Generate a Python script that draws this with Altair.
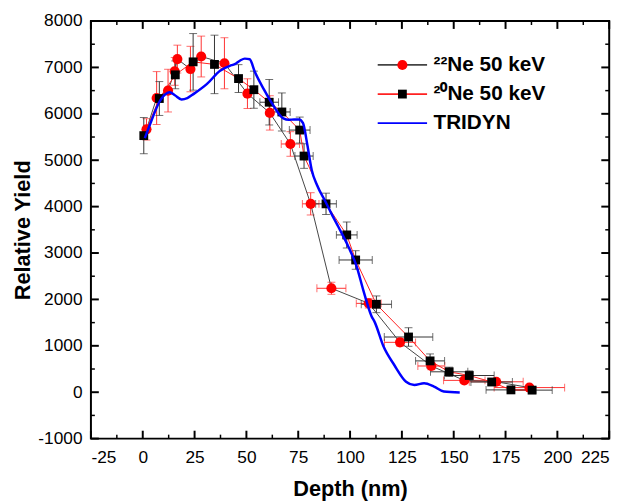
import altair as alt
import pandas as pd

# ---------------- data ----------------
S22 = "²²Ne 50 keV"
S20 = "²⁰Ne 50 keV"
STRI = "TRIDYN"

ne22_x = [1.8, 6.7, 12.2, 15.4, 16.7, 23.0, 28.2, 39.4, 50.5, 61.3, 71.2, 81.0, 91.0, 109.0, 124.1, 139.2, 155.1, 170.5, 186.5]
ne22_y = [5665, 6340, 6500, 6915, 7180, 6965, 7235, 7090, 6435, 6020, 5350, 4060, 2240, 1915, 1075, 565, 255, 225, 100]
ne22_yerr = [230, 570, 460, 300, 300, 490, 440, 550, 320, 370, 265, 240, 130, 100, 80, 80, 50, 50, 40]
ne22_xerr = [0, 0, 0, 0, 0, 0, 0, 0, 0, 0, 4.4, 4, 7, 6, 7.5, 6.5, 10, 13, 17]

ne20_x = [0.5, 8.0, 15.7, 24.3, 34.6, 46.2, 53.6, 61.0, 67.1, 75.7, 77.8, 88.4, 98.4, 102.7, 112.7, 128.2, 138.6, 147.8, 157.5, 168.3, 177.6, 187.8]
ne20_y = [5530, 6330, 6840, 7120, 7065, 6760, 6520, 6250, 6040, 5650, 5090, 4060, 3390, 2850, 1895, 1190, 675, 440, 360, 220, 50, 45]
ne20_yerr = [390, 365, 300, 610, 630, 300, 400, 490, 410, 280, 265, 230, 280, 200, 180, 200, 150, 100, 100, 60, 50, 50]
ne20_xerr = [0, 0, 0, 0, 0, 0, 0, 4.5, 4, 5, 4.4, 5, 5, 8, 7.3, 11.7, 7, 9, 12, 10, 12, 9.7]

tri_x = [1, 4, 8, 11.9, 13, 15.5, 18.7, 21.5, 24.6, 31, 37.3, 42, 44.4, 47, 49.2, 51.6, 54, 58.5, 62.7, 67.8,
         70.5, 73, 75.4, 77.3, 79.4, 81.5, 84.1, 88.1, 91, 94.4, 99.2, 103.2, 106.3, 110.3, 112, 116, 121.4,
         127, 131, 135.7, 140.5, 145.2, 152.9]
tri_y = [5475, 5830, 6255, 6450, 6465, 6400, 6310, 6340, 6430, 6645, 6930, 7035, 7070, 7150, 7190, 7175, 6910,
         6520, 6200, 5900, 5870, 5880, 5880, 5800, 5330, 4790, 4460, 4110, 3850, 3560, 3134, 2709, 2213, 1645,
         1500, 1000, 581, 227, 156, 191, 121, 15, -6]

x_major = [-25, 0, 25, 50, 75, 100, 125, 150, 175, 200, 225]
x_minor = [-12.5, 12.5, 37.5, 62.5, 87.5, 112.5, 137.5, 162.5, 187.5, 212.5]
y_major = [-1000, 0, 1000, 2000, 3000, 4000, 5000, 6000, 7000, 8000]
y_minor = [-500, 500, 1500, 2500, 3500, 4500, 5500, 6500, 7500]

# ---------------- tables ----------------
W, H = 525, 423
FONT = "Liberation Sans"

d22 = pd.DataFrame({"x": ne22_x, "y": ne22_y, "yerr": ne22_yerr, "xerr": ne22_xerr})
d22["series"] = S22
d20 = pd.DataFrame({"x": ne20_x, "y": ne20_y, "yerr": ne20_yerr, "xerr": ne20_xerr})
d20["series"] = S20
for d in (d22, d20):
    d["ylo"] = d["y"] - d["yerr"]
    d["yhi"] = d["y"] + d["yerr"]
    d["xlo"] = d["x"] - d["xerr"]
    d["xhi"] = d["x"] + d["xerr"]
    d["pt"] = d["series"]
d22x = d22[d22["xerr"] > 0]
d20x = d20[d20["xerr"] > 0]
dlines = pd.concat([d22, d20])
dtri = pd.DataFrame({"x": tri_x, "y": tri_y})
dtri["series"] = STRI

xs = alt.Scale(domain=[-25, 225], nice=False, zero=False)
ys = alt.Scale(domain=[-1000, 8000], nice=False, zero=False)

xaxis = alt.Axis(values=x_major, title="Depth (nm)", tickSize=0, domain=False, grid=False,
                 labelExpr="'' + datum.value",
                 labelFont=FONT, labelFontSize=17.5, labelColor="black", labelPadding=10.5,
                 titleFont=FONT, titleFontSize=22, titleFontWeight="bold", titleColor="black",
                 titlePadding=13)
yaxis = alt.Axis(values=y_major, title="Relative Yield", tickSize=0, domain=False, grid=False,
                 labelExpr="'' + datum.value",
                 labelFont=FONT, labelFontSize=17.5, labelColor="black", labelPadding=9,
                 titleFont=FONT, titleFontSize=22, titleFontWeight="bold", titleColor="black",
                 titlePadding=3)


def X(f):
    return alt.X(f, type="quantitative", scale=xs, axis=xaxis)


def Y(f):
    return alt.Y(f, type="quantitative", scale=ys, axis=yaxis)


LEG_FS = 21
leg_line = alt.Legend(orient="none", legendX=305, legendY=34, title=None, padding=0,
                      symbolType="M-5,0H5", symbolSize=100, symbolStrokeWidth=1.8,
                      labelFont=FONT, labelFontSize=LEG_FS, labelFontWeight="bold", labelColor="black",
                      labelOffset=21, rowPadding=7.5, labelLimit=300)
leg_pt = alt.Legend(orient="none", legendX=305, legendY=34, title=None, padding=0,
                    symbolStrokeWidth=0, symbolOpacity=1,
                    labelFont=FONT, labelFontSize=LEG_FS, labelExpr="' '",
                    labelOffset=21, rowPadding=7.5)

stroke_enc = alt.Stroke("series:N", scale=alt.Scale(domain=[S22, S20, STRI],
                                                    range=["#444444", "#ff2020", "#0000ff"]),
                        legend=leg_line)
pt_domain = [S22, S20]

RED = "#ff3030"
DARK = "#333333"

# error bars of the 22Ne (red) set
e22y = alt.Chart(d22).mark_rule(color=RED, strokeWidth=1).encode(x=X("x"), y=Y("ylo"), y2="yhi")
e22yc1 = alt.Chart(d22).mark_tick(color=RED, orient="horizontal", size=8, thickness=1).encode(x=X("x"), y=Y("ylo"))
e22yc2 = alt.Chart(d22).mark_tick(color=RED, orient="horizontal", size=8, thickness=1).encode(x=X("x"), y=Y("yhi"))
e22x = alt.Chart(d22x).mark_rule(color=RED, strokeWidth=1).encode(x=X("xlo"), x2="xhi", y=Y("y"))
e22xc1 = alt.Chart(d22x).mark_tick(color=RED, orient="vertical", size=8, thickness=1).encode(x=X("xlo"), y=Y("y"))
e22xc2 = alt.Chart(d22x).mark_tick(color=RED, orient="vertical", size=8, thickness=1).encode(x=X("xhi"), y=Y("y"))

# error bars of the 20Ne (black) set
e20y = alt.Chart(d20).mark_rule(color=DARK, strokeWidth=1).encode(x=X("x"), y=Y("ylo"), y2="yhi")
e20yc1 = alt.Chart(d20).mark_tick(color=DARK, orient="horizontal", size=8, thickness=1).encode(x=X("x"), y=Y("ylo"))
e20yc2 = alt.Chart(d20).mark_tick(color=DARK, orient="horizontal", size=8, thickness=1).encode(x=X("x"), y=Y("yhi"))
e20x = alt.Chart(d20x).mark_rule(color=DARK, strokeWidth=1).encode(x=X("xlo"), x2="xhi", y=Y("y"))
e20xc1 = alt.Chart(d20x).mark_tick(color=DARK, orient="vertical", size=8, thickness=1).encode(x=X("xlo"), y=Y("y"))
e20xc2 = alt.Chart(d20x).mark_tick(color=DARK, orient="vertical", size=8, thickness=1).encode(x=X("xhi"), y=Y("y"))

lines = alt.Chart(dlines).mark_line(strokeWidth=1).encode(
    x=X("x"), y=Y("y"), stroke=stroke_enc, detail="series:N")

points = alt.Chart(dlines).mark_point(filled=True, opacity=1, strokeWidth=0).encode(
    x=X("x"), y=Y("y"),
    color=alt.Color("pt:N", scale=alt.Scale(domain=pt_domain, range=["#ff0000", "#000000"]), legend=leg_pt),
    shape=alt.Shape("pt:N", scale=alt.Scale(domain=pt_domain, range=["circle", "square"]), legend=leg_pt),
    size=alt.Size("pt:N", scale=alt.Scale(domain=pt_domain, range=[105, 80]), legend=leg_pt),
)

tri = alt.Chart(dtri).mark_line(strokeWidth=2.5, interpolate="monotone").encode(
    x=X("x"), y=Y("y"), stroke=stroke_enc)

# inward ticks on all four sides
dxM = pd.DataFrame({"v": x_major})
dxm = pd.DataFrame({"v": x_minor})
dyM = pd.DataFrame({"v": y_major})
dym = pd.DataFrame({"v": y_minor})
tk = []
for dd, ln, sw in ((dxM, 8, 2), (dxm, 4, 1.5)):
    tk.append(alt.Chart(dd).mark_rule(color="black", strokeWidth=sw).encode(
        x=X("v"), y=alt.value(H), y2=alt.value(H - ln)))
    tk.append(alt.Chart(dd).mark_rule(color="black", strokeWidth=sw).encode(
        x=X("v"), y=alt.value(0), y2=alt.value(ln)))
for dd, ln, sw in ((dyM, 8, 2), (dym, 4, 1.5)):
    tk.append(alt.Chart(dd).mark_rule(color="black", strokeWidth=sw).encode(
        y=Y("v"), x=alt.value(0), x2=alt.value(ln)))
    tk.append(alt.Chart(dd).mark_rule(color="black", strokeWidth=sw).encode(
        y=Y("v"), x=alt.value(W), x2=alt.value(W - ln)))

chart = alt.layer(
    e22y, e22yc1, e22yc2, e22x, e22xc1, e22xc2,
    e20y, e20yc1, e20yc2, e20x, e20xc1, e20xc2,
    lines, points, tri, *tk
).properties(
    width=W, height=H,
    padding={"left": 84, "top": 10, "right": 16, "bottom": 60},
    autosize=alt.AutoSizeParams(type="none"),
    background="white",
).configure_view(stroke="black", strokeWidth=2)

chart.save("out.html", embed_options={"renderer": "svg", "actions": False})
